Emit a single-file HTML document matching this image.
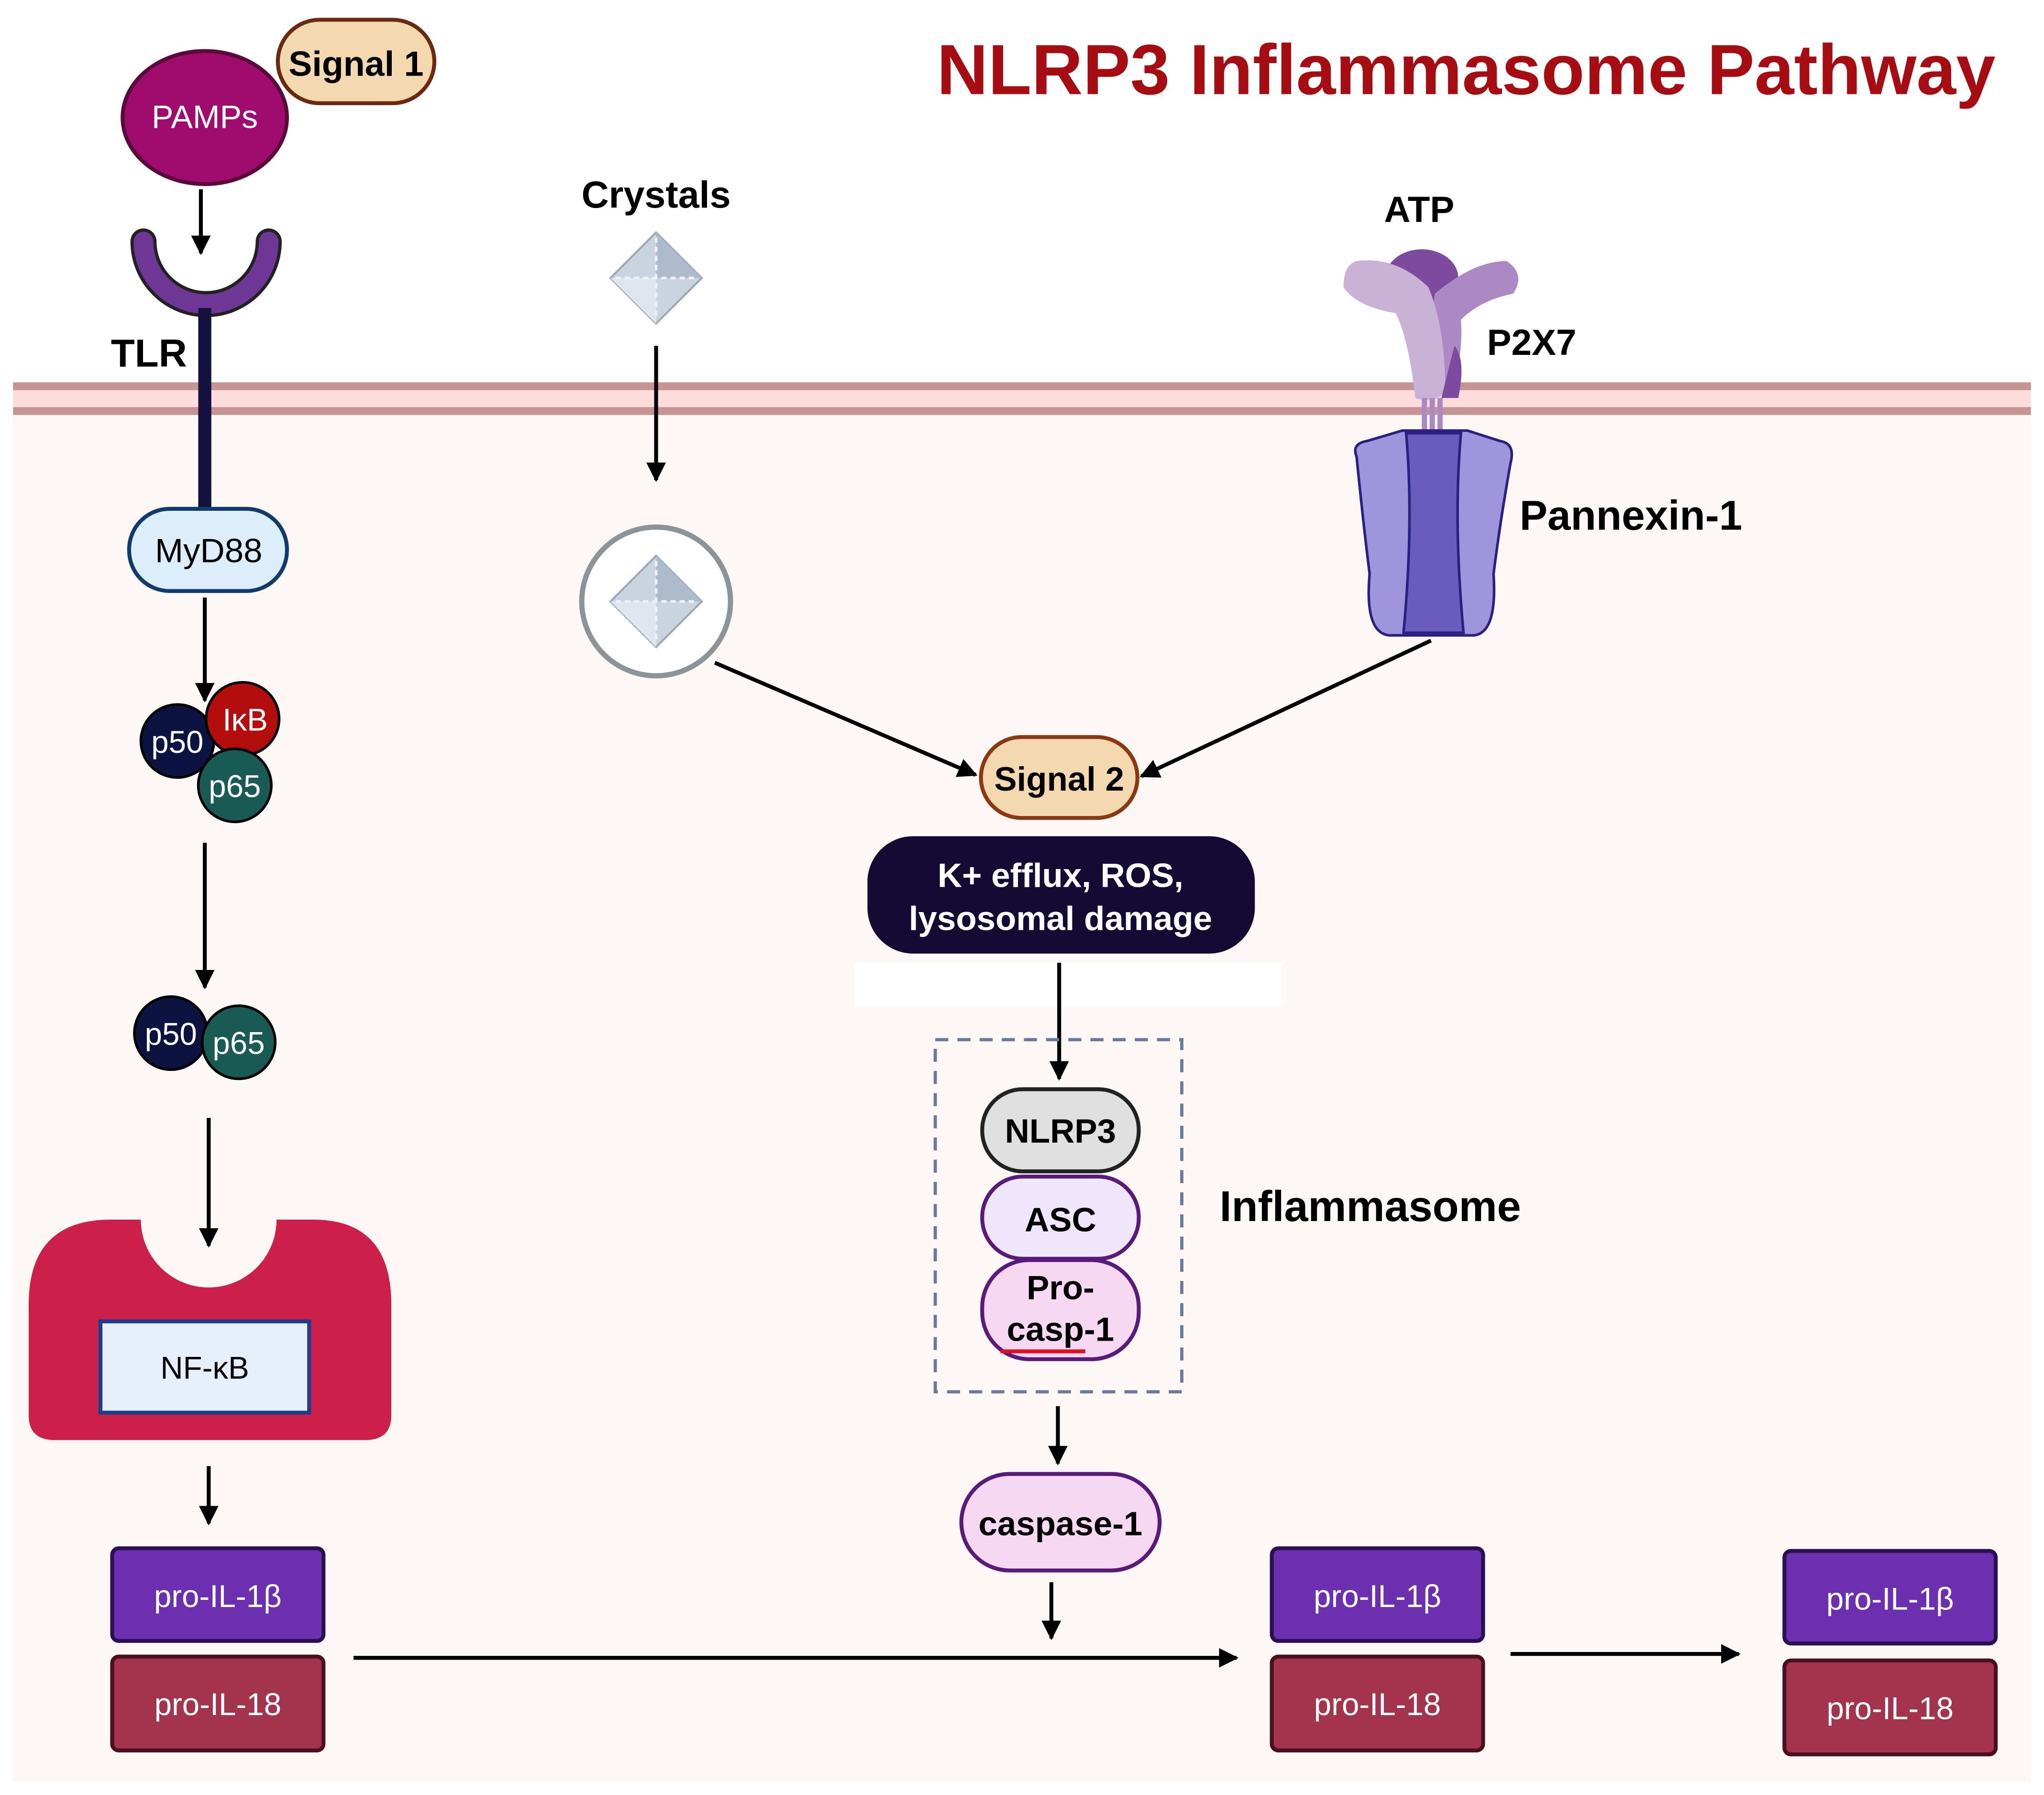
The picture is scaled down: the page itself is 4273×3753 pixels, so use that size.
<!DOCTYPE html>
<html><head><meta charset="utf-8"><style>
html,body{margin:0;padding:0;background:#fff}
svg{display:block}
text{font-family:"Liberation Sans",sans-serif}
.b{font-weight:bold}
</style></head><body>
<svg width="4273" height="3753" viewBox="0 0 1567 1376" xmlns="http://www.w3.org/2000/svg">
<defs>
<marker id="a" viewBox="0 0 10 10" refX="9" refY="5" markerWidth="5" markerHeight="5" orient="auto"><path d="M0,0L10,5L0,10z" fill="#000"/></marker>
</defs>
<rect width="1567" height="1376" fill="#fff"/>
<rect x="10" y="316" width="1547" height="1050" fill="#fdf7f6"/>
<rect x="10" y="293" width="1547" height="25" fill="#fcdcdc"/>
<rect x="10" y="293" width="1547" height="6" fill="#c59595"/>
<rect x="10" y="312" width="1547" height="6" fill="#c59595"/>

<text x="1124" y="72" text-anchor="middle" class="b" font-size="54.5" fill="#a50d12">NLRP3 Inflammasome Pathway</text>

<rect x="213" y="15" width="120" height="64" rx="32" fill="#f4d8b0" stroke="#6b2a10" stroke-width="3"/>
<text x="273" y="58" text-anchor="middle" class="b" font-size="27">Signal 1</text>
<ellipse cx="157" cy="90" rx="63" ry="51" fill="#a00c6e" stroke="#5a0a3a" stroke-width="3"/>
<text x="157" y="98" text-anchor="middle" font-size="25" fill="#fff">PAMPs</text>
<line x1="154" y1="145" x2="154" y2="194" stroke="#000" stroke-width="3" marker-end="url(#a)"/>
<path d="M110,185 A48,48 0 0 0 206,185" fill="none" stroke="#222" stroke-width="20" stroke-linecap="round"/>
<path d="M110,185 A48,48 0 0 0 206,185" fill="none" stroke="#6e3796" stroke-width="15" stroke-linecap="round"/>
<rect x="152" y="236" width="10" height="155" fill="#14103f"/>
<text x="85" y="281" class="b" font-size="30">TLR</text>
<rect x="99" y="390" width="121" height="63" rx="31" fill="#dceefb" stroke="#123a6a" stroke-width="3"/>
<text x="160" y="431" text-anchor="middle" font-size="26">MyD88</text>
<line x1="157" y1="458" x2="157" y2="537" stroke="#000" stroke-width="3" marker-end="url(#a)"/>
<circle cx="136" cy="568" r="28" fill="#0d1340" stroke="#000" stroke-width="2"/>
<circle cx="186" cy="551" r="28" fill="#b30d0d" stroke="#000" stroke-width="2"/>
<circle cx="180" cy="602" r="28" fill="#1a5a55" stroke="#000" stroke-width="2"/>
<text x="136" y="577" text-anchor="middle" font-size="24" fill="#fff">p50</text>
<text x="188" y="560" text-anchor="middle" font-size="24" fill="#fff">IκB</text>
<text x="180" y="611" text-anchor="middle" font-size="24" fill="#fff">p65</text>
<line x1="157" y1="646" x2="157" y2="757" stroke="#000" stroke-width="3" marker-end="url(#a)"/>
<circle cx="131" cy="792" r="28" fill="#0d1340" stroke="#000" stroke-width="2"/>
<circle cx="183" cy="799" r="28" fill="#1a5a55" stroke="#000" stroke-width="2"/>
<text x="131" y="801" text-anchor="middle" font-size="24" fill="#fff">p50</text>
<text x="183" y="808" text-anchor="middle" font-size="24" fill="#fff">p65</text>
<line x1="160" y1="857" x2="160" y2="955" stroke="#000" stroke-width="3" marker-end="url(#a)"/>
<path d="M22,1000 Q22,935 85,935 L108,935 A52,52 0 0 0 212,935 L240,935 Q300,935 300,1000 L300,1085 Q300,1104 280,1104 L42,1104 Q22,1104 22,1085 Z" fill="#cc1f4a"/>
<rect x="77" y="1013" width="160" height="70" fill="#e6f0fb" stroke="#1d3d8a" stroke-width="3"/>
<text x="157" y="1057" text-anchor="middle" font-size="24">NF-κB</text>
<line x1="160" y1="1124" x2="160" y2="1168" stroke="#000" stroke-width="3" marker-end="url(#a)"/>
<g font-size="24" fill="#fff" text-anchor="middle">
<rect x="86" y="1187" width="162" height="71" rx="5" fill="#6b2fb0" stroke="#2a1050" stroke-width="3"/>
<text x="167" y="1232">pro-IL-1β</text>
<rect x="86" y="1270" width="162" height="72" rx="5" fill="#a4344e" stroke="#4a1020" stroke-width="3"/>
<text x="167" y="1315">pro-IL-18</text>
<rect x="975" y="1187" width="162" height="71" rx="5" fill="#6b2fb0" stroke="#2a1050" stroke-width="3"/>
<text x="1056" y="1232">pro-IL-1β</text>
<rect x="975" y="1270" width="162" height="72" rx="5" fill="#a4344e" stroke="#4a1020" stroke-width="3"/>
<text x="1056" y="1315">pro-IL-18</text>
<rect x="1368" y="1189" width="162" height="71" rx="5" fill="#6b2fb0" stroke="#2a1050" stroke-width="3"/>
<text x="1449" y="1234">pro-IL-1β</text>
<rect x="1368" y="1273" width="162" height="72" rx="5" fill="#a4344e" stroke="#4a1020" stroke-width="3"/>
<text x="1449" y="1318">pro-IL-18</text>
</g>
<line x1="271" y1="1271" x2="948" y2="1271" stroke="#000" stroke-width="3" marker-end="url(#a)"/>
<line x1="1158" y1="1268" x2="1333" y2="1268" stroke="#000" stroke-width="3" marker-end="url(#a)"/>

<text x="503" y="159" text-anchor="middle" class="b" font-size="29">Crystals</text>
<g id="cr">
<path d="M503,178 L538,213 L503,248 L468,213 Z" fill="#c9d4e0" stroke="#9aa8b8" stroke-width="1.5"/>
<path d="M503,178 L538,213 L503,213 Z" fill="#aebbcc"/>
<path d="M503,213 L503,248 L468,213 Z" fill="#dfe6ee"/>
<path d="M503,182 V244 M472,213 H534" stroke="#eef2f6" stroke-width="2" stroke-dasharray="4 3"/>
</g>
<line x1="503" y1="265" x2="503" y2="368" stroke="#000" stroke-width="3" marker-end="url(#a)"/>
<circle cx="503" cy="461" r="57" fill="#fff" stroke="#8a9499" stroke-width="4"/>
<use href="#cr" transform="translate(0,248)"/>
<line x1="548" y1="508" x2="748" y2="594" stroke="#000" stroke-width="3" marker-end="url(#a)"/>

<text x="1088" y="170" text-anchor="middle" class="b" font-size="28">ATP</text>
<ellipse cx="1090" cy="213" rx="28" ry="22" fill="#7e4aa0"/>
<path d="M1100,225 Q1130,200 1155,200 Q1170,210 1160,225 Q1135,230 1120,245 Q1122,275 1112,300 L1090,300 Z" fill="#ac88c4"/>
<path d="M1040,200 Q1070,196 1095,220 Q1108,250 1108,300 Q1100,310 1085,305 Q1080,260 1070,240 Q1040,235 1030,220 Q1030,203 1040,200 Z" fill="#c9b2d6"/>
<path d="M1115,265 Q1124,275 1118,305 L1105,305 Z" fill="#7e4aa0"/>
<path d="M1092,305 L1092,330 M1098,305 L1098,330 M1104,305 L1104,330" stroke="#ac88c4" stroke-width="4"/>
<text x="1140" y="272" class="b" font-size="28">P2X7</text>
<path d="M1040,350 Q1036,340 1048,338 L1075,330 L1125,330 L1150,338 Q1162,340 1158,355 Q1150,400 1145,440 Q1148,485 1130,487 L1065,487 Q1046,485 1050,440 Q1045,400 1040,350 Z" fill="#9e95dc" stroke="#2a2080" stroke-width="2"/>
<path d="M1078,332 Q1084,400 1076,485 L1122,485 Q1114,400 1120,332 Z" fill="#6a5cbf" stroke="#2a2080" stroke-width="2"/>
<text x="1165" y="406" class="b" font-size="32">Pannexin-1</text>
<line x1="1097" y1="491" x2="875" y2="595" stroke="#000" stroke-width="3" marker-end="url(#a)"/>

<rect x="752" y="565" width="120" height="62" rx="31" fill="#f4d8b0" stroke="#8a3a12" stroke-width="3"/>
<text x="812" y="606" text-anchor="middle" class="b" font-size="26">Signal 2</text>
<rect x="665" y="641" width="297" height="90" rx="35" fill="#150a33"/>
<text x="813" y="680" text-anchor="middle" class="b" font-size="26" fill="#fff">K+ efflux, ROS,</text>
<text x="813" y="713" text-anchor="middle" class="b" font-size="26" fill="#fff">lysosomal damage</text>
<rect x="655" y="738" width="328" height="34" fill="#fff"/>
<line x1="812" y1="738" x2="812" y2="827" stroke="#000" stroke-width="3" marker-end="url(#a)"/>
<rect x="717" y="797" width="189" height="270" fill="none" stroke="#6a7a9a" stroke-width="2.5" stroke-dasharray="10 7"/>
<rect x="753" y="835" width="120" height="63" rx="31" fill="#e0e0e0" stroke="#222" stroke-width="3"/>
<text x="813" y="876" text-anchor="middle" class="b" font-size="26">NLRP3</text>
<rect x="753" y="902" width="120" height="63" rx="31" fill="#f0e6fb" stroke="#5a1a7a" stroke-width="3"/>
<text x="813" y="944" text-anchor="middle" class="b" font-size="26">ASC</text>
<rect x="753" y="966" width="120" height="76" rx="36" fill="#f6d8f3" stroke="#5a1a7a" stroke-width="3"/>
<text x="813" y="996" text-anchor="middle" class="b" font-size="26">Pro-</text>
<text x="813" y="1028" text-anchor="middle" class="b" font-size="26">casp-1</text>
<line x1="767" y1="1036" x2="832" y2="1036" stroke="#e01020" stroke-width="3"/>
<text x="935" y="936" class="b" font-size="33">Inflammasome</text>
<line x1="811" y1="1078" x2="811" y2="1122" stroke="#000" stroke-width="3" marker-end="url(#a)"/>
<rect x="737" y="1130" width="152" height="74" rx="37" fill="#f6d8f3" stroke="#5a1a7a" stroke-width="3"/>
<text x="813" y="1177" text-anchor="middle" class="b" font-size="26">caspase-1</text>
<line x1="806" y1="1213" x2="806" y2="1256" stroke="#000" stroke-width="3" marker-end="url(#a)"/>
</svg>
</body></html>
